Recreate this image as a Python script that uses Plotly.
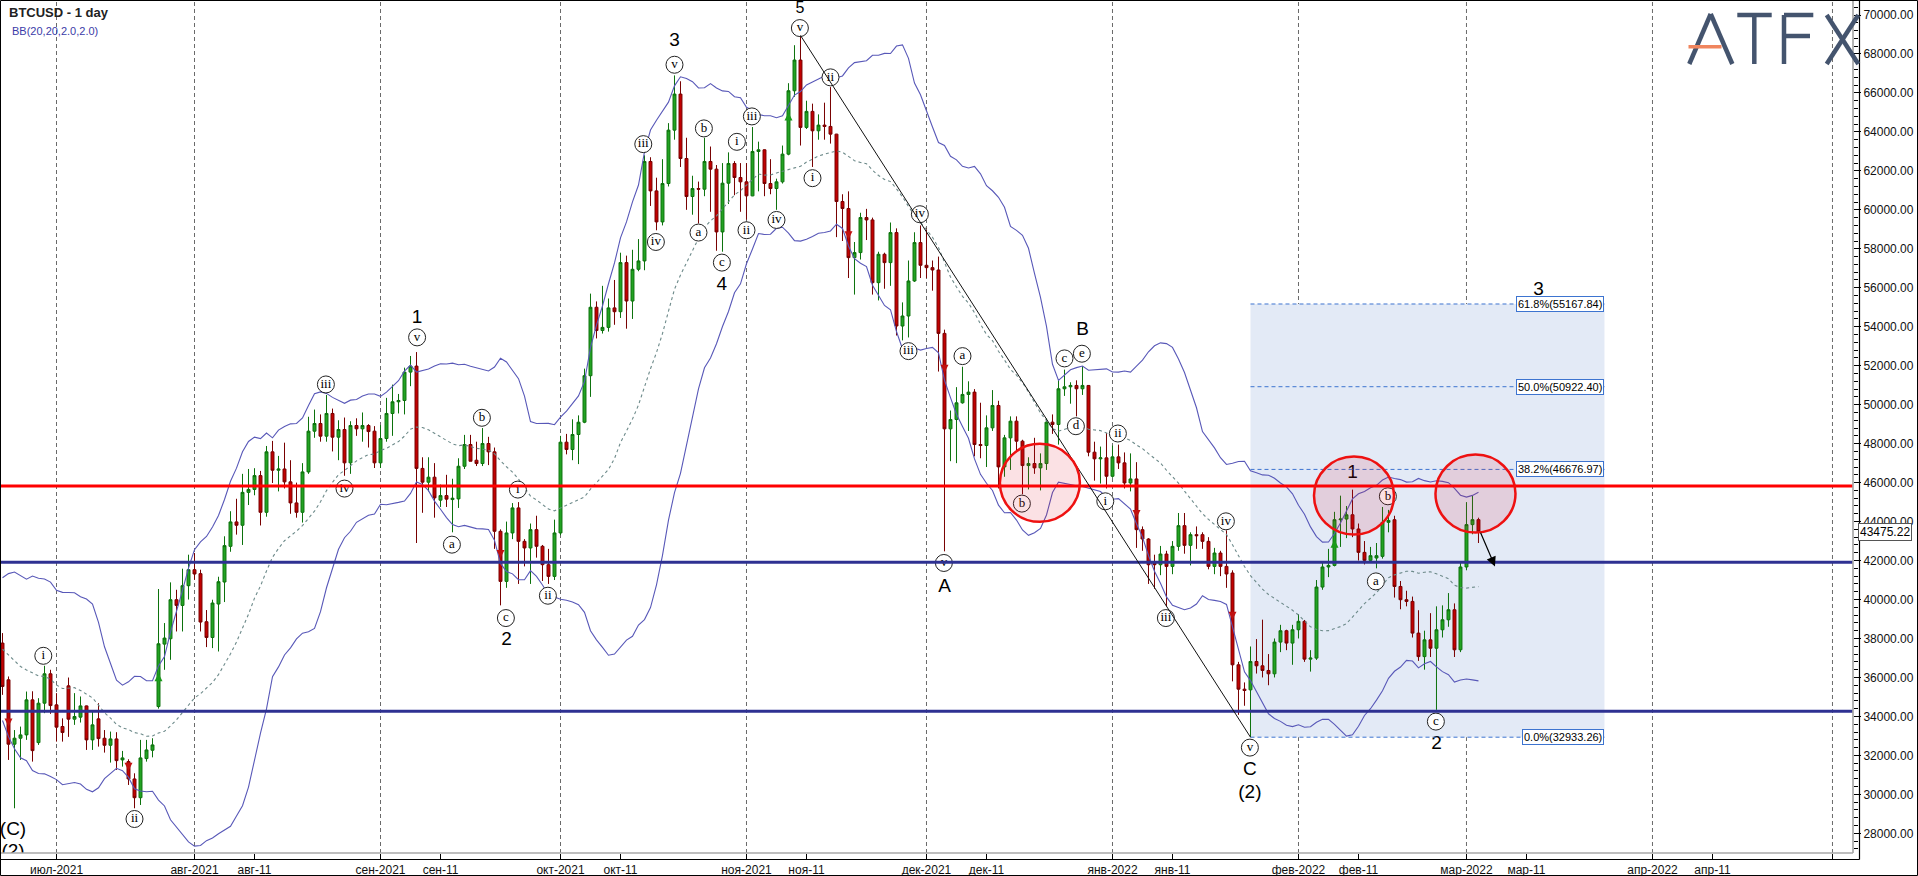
import pandas as pd
import numpy as np
import plotly.graph_objects as go

# ---------------- data ----------------
# bars: weekdays only until 30 Jul 2021, every day afterwards
bar_dates = list(pd.bdate_range("2021-06-18", "2021-07-30")) + list(pd.date_range("2021-07-31", "2022-03-03"))

opens = [37764,35880,32574,32882,33052,34850,32656,34679,36187,34593,33482,35570,33859,33962,34540,32796,33874,32879,32520,32845,
31767,31681,30791,29829,31836,32263,34506,37711,37987,39990,39697,40709,41531,41327,38860,38052,39769,40899,42730,43983,
43811,45500,45650,46360,44476,47580,46635,46700,46038,44958,44476,46549,48640,49034,48383,49548,48332,48726,47015,48932,
48761,48932,48640,47015,48263,49548,50148,50216,51672,51980,46729,46021,46278,45100,45334,45130,45164,46840,47955,47149,
46979,48007,47580,43501,40931,43417,44702,42986,42646,43587,42731,41788,41187,43417,48075,47700,48469,49100,51487,55000,
53806,53967,54968,54772,57292,55320,56949,57377,62482,60973,59380,61350,64091,65941,62635,60683,61094,61060,62482,62088,
58866,61368,62380,61660,61437,60717,62996,63082,61352,61094,61437,62859,66112,67688,64230,65053,64057,64348,64280,63886,
60427,60067,57549,57806,59605,59483,56263,57719,57291,58833,54037,54551,56349,58319,57154,57034,56914,53659,48760,49240,
50096,50525,50645,47955,47904,48811,49959,46807,48297,49154,48126,46876,46979,46756,46979,49103,48983,50816,50918,50987,
50816,50987,47562,47220,47271,46326,47322,47014,45983,46189,43585,43105,41870,41786,42334,41700,42728,43790,42780,43328,
43328,42985,41700,42386,41700,41361,36649,35398,35364,36820,36598,36358,36187,37815,38398,37764,38450,38880,36940,36992,
40640,41670,41750,44097,44130,44350,43620,42420,42009,42130,42215,43962,44097,40670,39990,39903,38276,37070,37930,37500,
38447,38960,39475,37420,41670,43844,44100]
highs = [38278,36050,33300,33478,35277,35290,34936,36598,36393,35195,33900,35996,35195,35024,34560,34253,34680,33300,33222,33190,
32229,31800,31080,32796,32796,32880,40539,38792,40880,40500,41582,42300,42385,41530,39460,39990,41169,43245,44531,45170,
46450,46700,46740,46600,47880,48140,47370,48050,47150,46000,47000,49380,49750,49500,50500,49800,49200,49340,49150,49300,
49600,49000,48900,48950,50350,51030,50550,51900,52500,52700,47300,47300,47000,45900,46400,46200,47250,48450,48450,48100,
48800,48350,47800,43600,44000,44950,45000,43100,43900,44300,42800,42600,44100,48400,48500,49250,49450,51850,55700,55300,
56100,55450,56400,57800,57650,57950,58500,62800,62700,61650,62600,64450,66900,66600,63700,61750,61450,63700,63250,62300,
62400,62950,62500,62400,62400,64250,63500,63100,62600,61600,63300,66500,68450,68950,65600,65450,64900,65500,66300,63900,
60800,60950,58350,59850,60050,59600,57850,57800,59350,59050,55250,57400,58850,59200,59050,57400,57600,53850,49700,50900,
51948,51200,50800,50100,49450,50750,50200,48450,49400,49400,48200,47300,48300,47500,49300,49500,51300,51800,51150,51250,
51979,51000,48100,47850,48550,47900,47950,47550,47500,47050,43750,43150,42300,42750,42500,43000,44440,44440,43450,43750,
43450,43200,42650,42500,43550,41500,36800,35745,37590,37970,38966,37200,38000,38700,38450,38700,39250,38950,37400,41000,
41950,42600,44500,45330,44800,45640,43900,43000,42700,42900,44750,44600,44300,40950,40450,40150,39450,38400,39300,39650,
39700,40330,39800,41900,45000,45340,44200]
lows = [35107,31767,29285,31767,32796,31680,32537,34167,34133,32707,32707,32951,33566,33686,32280,32280,32450,32143,31631,31253,
31424,30482,29285,29455,31680,31900,34400,36392,36906,38360,38360,40000,41016,38360,37559,37507,37333,39870,42450,43331,
42800,44850,45350,43800,44250,45980,45550,45700,44400,44200,43950,46450,48300,48100,48100,47600,47150,46350,46450,48400,
48100,47800,46750,46750,48100,48400,49550,49500,50950,42900,44450,45550,44200,44750,44750,43450,44700,46700,47100,46850,
46850,46900,42600,39700,40600,43100,40800,41700,40800,42150,40950,40800,41000,43300,47450,47150,46950,49050,50400,53400,
53650,53750,54100,54450,53900,54400,56850,56900,60200,58950,59200,61200,63600,62200,60000,59750,59300,60700,59900,57900,
57850,60300,60750,59900,59500,60700,60950,60700,60800,60000,61350,62800,65800,63300,64150,62200,63600,63600,63400,58600,
58400,56500,55650,57450,58450,55650,55350,55950,56100,53550,53300,53450,56300,56500,56500,55850,51700,42472,47100,47000,
50050,48650,47350,47250,46800,48650,45700,46300,46650,47600,45400,45650,46450,45600,46650,48500,47950,50450,50050,49400,
50500,47350,46100,45950,45700,46250,46700,45700,45550,42650,42500,40800,40550,41250,39650,41300,42500,42350,41750,42600,
42600,41550,41300,41200,40600,35800,34080,34546,32933,36200,36000,35600,36000,37300,37400,36650,38000,36800,36300,36900,
40500,41150,41700,42700,43150,43200,42000,41800,41900,41600,42100,43450,40100,39500,39650,38050,36850,36400,37050,34336,
38050,38600,37050,37300,41500,43350,42900]
closes = [35538,32574,32882,33052,34850,32245,34679,36187,34557,33448,33173,33859,33996,34540,32796,33566,32862,32520,32845,31731,
31870,30791,29829,31870,32280,32537,37728,38021,39990,39697,40709,41531,41310,38843,38052,39820,40914,42765,43983,43811,
45500,45650,46360,44476,47580,46635,46700,46038,44958,44476,46549,48640,49034,48383,49548,48332,48726,47015,48932,48761,
48932,48620,47015,48263,49548,50148,50216,51672,51980,46729,46021,46278,45216,45334,45150,45200,46840,47955,47097,46979,
48007,47580,43501,40931,43417,44702,42986,42646,43587,42731,41788,41187,43417,48075,47700,48469,49100,51487,55000,53806,
53967,54968,54772,57292,55320,56949,57377,62482,60973,59380,61350,64091,65941,62635,60683,61094,61060,62482,62088,58866,
61368,62380,61660,61437,60717,62996,63082,61352,61094,61437,62859,66112,67688,64230,65053,64057,64348,64280,63886,60427,
60067,57549,57806,59605,59483,56263,57719,57291,58833,54037,54551,56349,58319,57154,57034,56914,53659,48760,49240,50096,
50525,50645,47955,47904,48811,49959,46807,48297,49154,48126,46876,46979,46756,46979,49103,48983,50816,50918,50987,50816,
50987,47562,47220,47271,46326,47322,47014,45983,46189,43585,43105,41786,41786,42334,41700,42728,43790,42780,43328,43277,
42985,41700,42386,41700,41310,36649,35398,35330,36820,36598,36358,36187,37815,38398,37764,38450,38880,36940,36992,40640,
41670,41750,44097,44130,44350,43620,42420,42009,42250,42250,43962,44060,40670,39990,39903,38276,37070,37930,37500,38447,
38960,39475,37420,41670,43844,44100,43475.22]
# closes of the 19 bars before the first visible one (needed by BB(20))
bb_warmup_closes = [38700,38300,39300,38400,35700,37300,36700,37600,39200,36850,33560,33400,37390,36690,37340,40220,40410,38350,38090]

resistance_level = 45830
support_levels = [41915, 34270]
last_price = 43475.22
fib_pcts = ["0.0%", "38.2%", "50.0%", "61.8%"]
fib_prices = [32933.26, 46676.97, 50922.40, 55167.84]

tick_dates = ["2021-07-01","2021-08-01","2021-08-11","2021-09-01","2021-09-11","2021-10-01","2021-10-11","2021-11-01",
              "2021-11-11","2021-12-01","2021-12-11","2022-01-01","2022-01-11","2022-02-01","2022-02-11","2022-03-01",
              "2022-03-11","2022-04-01","2022-04-11","2022-05-01"]
tick_labels = ["июл-2021","авг-2021","авг-11","сен-2021","сен-11","окт-2021","окт-11","ноя-2021","ноя-11","дек-2021",
               "дек-11","янв-2022","янв-11","фев-2022","фев-11","мар-2022","мар-11","апр-2022","апр-11",""]
month_dates = [d for d in tick_dates if d.endswith("-01")]

signal_x = [1, 21, 26, 83, 131, 141, 157, 189, 205, 222]
signal_price = [33478, 31217, 36222, 42132, 65000, 58490, 51640, 44190, 38960, 43072]
signal_dir = ["down","down","up","down","up","down","down","down","down","up"]

circ_text = ["i","ii","iii","iv","v","a","b","c","i","ii","iii","iv","v","a","b","c","i","ii","iii","iv","v","i","ii",
             "iii","iv","v","a","b","c","d","e","i","ii","iii","iv","v","a","b","c"]
circ_x = [6.8,22.0,53.9,57.0,69.1,74.9,79.9,83.9,85.9,90.9,106.8,108.9,112.0,116.0,116.9,119.9,122.4,124.0,124.9,129.0,
          132.9,135.0,138.0,151.0,152.9,156.9,160.0,169.9,177.0,178.9,179.9,183.8,185.9,193.9,203.9,207.9,228.9,230.9,238.9]
circ_y = [37111,28735,51038,45694,53454,42816,49327,39049,45642,40195,63372,58351,67447,58834,64179,57292,63490,58952,64795,59481,
          69330,61625,66799,52749,59775,41875,52492,44923,52374,48895,52616,45041,48520,39049,44013,32399,40930,45298,33735]

big_text = ["1","2","3","4","5","A","B","C","(2)","(C)","(2)","1","2","3"]
big_x = [69.1,84.0,112.0,119.9,132.9,157.0,180.0,207.9,207.9,1.75,1.75,225.0,239.0,256.0]
big_y = [54451,37934,68650,56127,70305,40642,53813,31217,30056,28170,27040,46500,32589,55880]
big_size = [19,19,19,19,16,19,19,19,19,19,19,19,19,19]

# red highlight circles (centre in chart coords)
hl_x = [172.9, 225.25, 245.5]
hl_y = [45987, 45334, 45437]

# ---------------- helpers ----------------
xs = list(range(len(bar_dates)))
date_index = {d.strftime("%Y-%m-%d"): i for i, d in enumerate(bar_dates)}
last_date = bar_dates[-1]

def pos(d):
    key = pd.Timestamp(d).strftime("%Y-%m-%d")
    if key in date_index:
        return date_index[key]
    return len(bar_dates) - 1 + (pd.Timestamp(d) - last_date).days

PW, PH = 1853.0, 853.0
def px(x):
    return x / PW
def py(y):
    return 1 - y / PH

# Bollinger Bands (20, 2)
s = pd.Series(bb_warmup_closes + closes, dtype=float)
mid = s.rolling(20).mean()
sd = s.rolling(20).std(ddof=0)
n = len(closes)
bb_mid = mid.iloc[-n:].to_numpy()
bb_up = (mid + 2 * sd).iloc[-n:].to_numpy()
bb_lo = (mid - 2 * sd).iloc[-n:].to_numpy()

# ---------------- figure ----------------
fig = go.Figure()
fig.add_trace(go.Candlestick(
    x=xs, open=opens, high=highs, low=lows, close=closes,
    increasing=dict(line=dict(color="#0c720c", width=1), fillcolor="#22a322"),
    decreasing=dict(line=dict(color="#780000", width=1), fillcolor="#c20000"),
    whiskerwidth=0, hoverinfo="skip"))

fig.add_trace(go.Scatter(x=xs, y=bb_up, mode="lines", line=dict(color="#5858b8", width=1.1), hoverinfo="skip"))
fig.add_trace(go.Scatter(x=xs, y=bb_lo, mode="lines", line=dict(color="#5858b8", width=1.1), hoverinfo="skip"))
fig.add_trace(go.Scatter(x=xs, y=bb_mid, mode="lines", line=dict(color="#6d8a8a", width=1.1, dash="3px,3px"), hoverinfo="skip"))

sig_sym = ["arrow-down" if d == "down" else "arrow-up" for d in signal_dir]
sig_col = ["#c01010" if d == "down" else "#1a9a1a" for d in signal_dir]
fig.add_trace(go.Scatter(x=signal_x, y=signal_price, mode="markers",
                         marker=dict(symbol=sig_sym, size=8, color=sig_col, line=dict(width=0)), hoverinfo="skip"))

fig.add_trace(go.Scatter(x=circ_x, y=circ_y, mode="markers+text", text=circ_text, textposition="middle center",
                         marker=dict(symbol="circle", size=17, color="white", line=dict(color="#222222", width=1)),
                         textfont=dict(family="Liberation Serif, Times New Roman, serif", size=13, color="black"),
                         hoverinfo="skip"))
fig.add_trace(go.Scatter(x=big_x, y=big_y, mode="text", text=big_text, textposition="middle center",
                         textfont=dict(family="Liberation Sans, Arial, sans-serif", size=big_size, color="black"),
                         hoverinfo="skip"))

shapes = []
# fibonacci zone
fx0, fx1 = pos("2022-01-24"), pos("2022-03-24")
shapes.append(dict(type="rect", xref="x", yref="y", x0=fx0, x1=fx1, y0=fib_prices[0], y1=fib_prices[-1],
                   fillcolor="#e3eaf6", line=dict(width=0), layer="below"))
# month grid lines
for d in month_dates:
    shapes.append(dict(type="line", xref="x", yref="paper", x0=pos(d), x1=pos(d), y0=0, y1=1,
                       line=dict(color="#6a6a6a", width=1, dash="4px,3px"), layer="below"))
for p in fib_prices:
    shapes.append(dict(type="line", xref="x", yref="y", x0=fx0, x1=fx1, y0=p, y1=p,
                       line=dict(color="#3d74d0", width=1, dash="4px,3px")))
# horizontal levels
shapes.append(dict(type="line", xref="paper", yref="y", x0=0, x1=1, y0=resistance_level, y1=resistance_level,
                   line=dict(color="#ff0000", width=3)))
for lv in support_levels:
    shapes.append(dict(type="line", xref="paper", yref="y", x0=0, x1=1, y0=lv, y1=lv,
                       line=dict(color="#2e3192", width=3)))
# trend line from wave-5 top to wave-C low
t0, t1 = pos("2021-11-10"), pos("2022-01-24")
shapes.append(dict(type="line", xref="x", yref="y", x0=t0, y0=highs[t0], x1=t1, y1=lows[t1],
                   line=dict(color="#111111", width=1)))
# highlight circles
for cx, cy in zip(hl_x, hl_y):
    shapes.append(dict(type="circle", xref="x", yref="y", xsizemode="pixel", ysizemode="pixel",
                       xanchor=cx, yanchor=cy, x0=-40, x1=40, y0=-39, y1=39,
                       fillcolor="rgba(225,20,50,0.13)", line=dict(color="#ee1111", width=2.5)))
# frame / axes lines
shapes.append(dict(type="line", xref="paper", yref="paper", x0=px(1853), x1=px(1853), y0=py(853), y1=py(0),
                   line=dict(color="#a8a8a8", width=1.7)))
shapes.append(dict(type="line", xref="paper", yref="paper", x0=px(0), x1=px(1853), y0=py(853), y1=py(853),
                   line=dict(color="#a8a8a8", width=1.7)))
shapes.append(dict(type="line", xref="paper", yref="paper", x0=px(0), x1=px(1859.5), y0=py(859.5), y1=py(859.5),
                   line=dict(color="black", width=1.2)))
shapes.append(dict(type="line", xref="paper", yref="paper", x0=px(1859.5), x1=px(1859.5), y0=py(0), y1=py(859.5),
                   line=dict(color="black", width=1.2)))
shapes.append(dict(type="rect", xref="paper", yref="paper", x0=px(0.5), x1=px(1917.5), y0=py(875.5), y1=py(0.5),
                   line=dict(color="black", width=1), fillcolor="rgba(0,0,0,0)"))
# ATFX logo
logo_col = "#44546e"
logo_segments = [((1689.3, 64), (1710.7, 14)), ((1710.7, 14), (1732.3, 64)),
                 ((1737.3, 15), (1771.7, 15)), ((1754.3, 15), (1754.3, 64)),
                 ((1784, 15), (1784, 64)), ((1784, 15), (1813.3, 15)), ((1784, 36), (1810, 36)),
                 ((1826.7, 15), (1858.3, 64)), ((1858.3, 15), (1826.7, 64))]
for (a, b) in logo_segments:
    shapes.append(dict(type="line", xref="paper", yref="paper", x0=px(a[0]), y0=py(a[1]), x1=px(b[0]), y1=py(b[1]),
                       line=dict(color=logo_col, width=4.5)))
shapes.append(dict(type="line", xref="paper", yref="paper", x0=px(1688.5), y0=py(46.7), x1=px(1721.5), y1=py(46.7),
                   line=dict(color="#f0855e", width=3.5)))

annotations = []
for pct, p in zip(fib_pcts, fib_prices):
    annotations.append(dict(x=fx1, y=p, xref="x", yref="y", xanchor="right", yanchor="middle",
                            text=f"{pct}({p:.2f})", showarrow=False, bgcolor="white",
                            bordercolor="#3d74d0", borderwidth=1, borderpad=1,
                            font=dict(size=11, color="black", family="Liberation Sans, Arial, sans-serif")))
annotations.append(dict(x=248.75, y=41700, ax=246.25, ay=43500, xref="x", yref="y", axref="x", ayref="y",
                        text="", showarrow=True, arrowhead=2, arrowsize=1.6, arrowwidth=1.2, arrowcolor="black"))
annotations.append(dict(x=px(1858), y=last_price, xref="paper", yref="y", xanchor="left", yanchor="middle",
                        text=f"{last_price:.2f}", showarrow=False, bgcolor="white", bordercolor="#555555",
                        borderwidth=1, borderpad=1, font=dict(size=12, color="black")))
annotations.append(dict(x=px(7), y=py(12.5), xref="paper", yref="paper", xanchor="left", yanchor="middle",
                        text="<b>BTCUSD - 1 day</b>", showarrow=False, font=dict(size=13, color="#222222")))
annotations.append(dict(x=px(10), y=py(31), xref="paper", yref="paper", xanchor="left", yanchor="middle",
                        text="BB(20,20,2.0,2.0)", showarrow=False, font=dict(size=11, color="#3b3ba8")))

fig.update_layout(
    width=1918, height=876, autosize=False,
    margin=dict(l=0, r=65, t=0, b=23),
    paper_bgcolor="white", plot_bgcolor="white",
    showlegend=False, hovermode=False,
    font=dict(family="Liberation Sans, Arial, sans-serif", size=12, color="#111111"),
    shapes=shapes, annotations=annotations,
    xaxis=dict(range=[-0.417, 308.42], tickmode="array", tickvals=[pos(d) for d in tick_dates], ticktext=tick_labels,
               ticks="outside", ticklen=6, tickcolor="black", showgrid=False, zeroline=False, showline=False,
               rangeslider=dict(visible=False), tickfont=dict(size=12, color="#111111")),
    yaxis=dict(side="right", range=[26990, 70770], dtick=2000, tick0=0, tickformat=".2f",
               ticks="outside", ticklen=7, tickcolor="black", showgrid=False, zeroline=False, showline=False,
               tickfont=dict(size=12, color="#111111"),
               minor=dict(dtick=400, tick0=0, ticks="outside", ticklen=4, tickcolor="black", showgrid=False)),
)

fig.write_html("out.html", config={"displayModeBar": False},
               post_script="document.body.style.margin='0';document.body.style.overflow='hidden';")
